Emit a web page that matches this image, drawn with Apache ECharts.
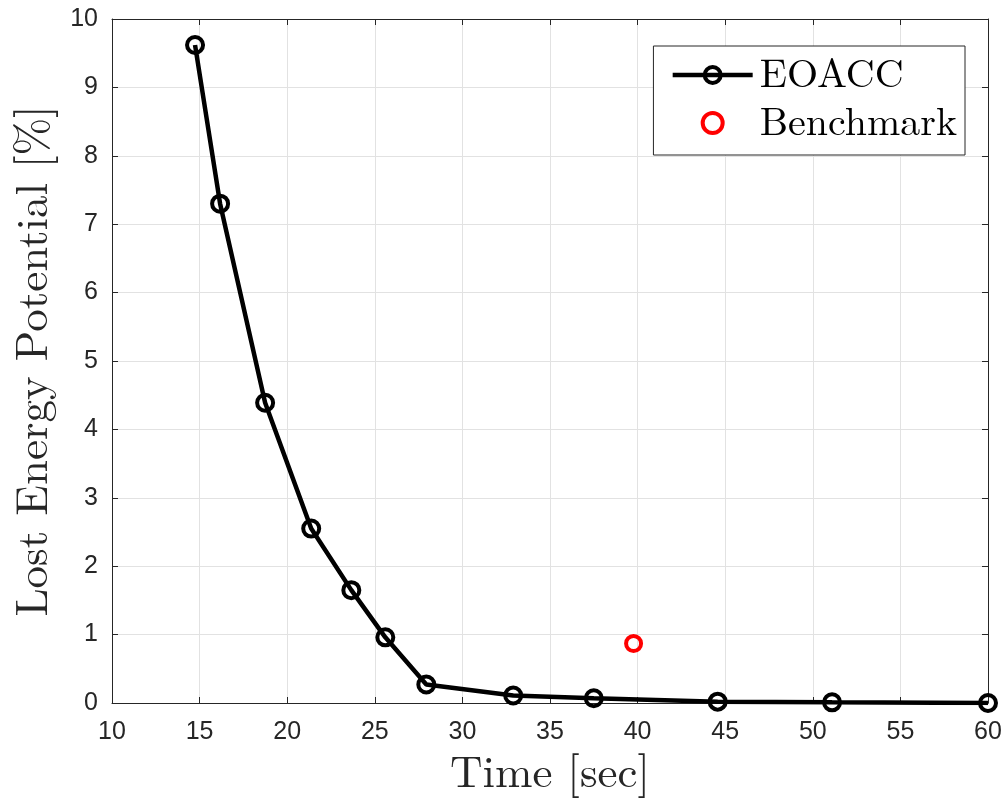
<!DOCTYPE html>
<html>
<head>
<meta charset="utf-8">
<script src="https://cdn.jsdelivr.net/npm/echarts@6/dist/echarts.min.js"></script>
<style>html,body{margin:0;padding:0;background:#fff}#c{width:1008px;height:801px}</style>
</head>
<body>
<div id="c"></div>
<script>
const eoaccTime = [14.74, 16.17, 18.74, 21.37, 23.66, 25.6, 27.94, 32.9, 37.5, 44.57, 51.1, 60.0];
const eoaccLoss = [9.62, 7.30, 4.39, 2.55, 1.65, 0.96, 0.27, 0.11, 0.07, 0.02, 0.01, 0.0];
const benchTime = [39.77];
const benchLoss = [0.87];
const xTicks = {min: 10, max: 60, interval: 5};
const yTicks = {min: 0, max: 10, interval: 1};

const chart = echarts.init(document.getElementById('c'), null, {renderer: 'canvas'});
const axisCol = '#262626';
const serif = '"Latin Modern Roman","CMU Serif","Liberation Serif","DejaVu Serif",serif';
const sans = '"Liberation Sans",Arial,Helvetica,sans-serif';

function baseX(pos, labels) {
  return {
    type: 'value', position: pos, min: xTicks.min, max: xTicks.max, interval: xTicks.interval,
    axisLine: {show: true, onZero: false, lineStyle: {color: axisCol, width: 1}},
    axisTick: {show: true, inside: true, length: 6, lineStyle: {color: axisCol}},
    axisLabel: {show: labels, color: axisCol, fontFamily: sans, fontSize: 25, margin: 17},
    splitLine: {show: labels, lineStyle: {color: '#e2e2e2', width: 1}}
  };
}
function baseY(pos, labels) {
  return {
    type: 'value', position: pos, min: yTicks.min, max: yTicks.max, interval: yTicks.interval,
    axisLine: {show: true, onZero: false, lineStyle: {color: axisCol, width: 1}},
    axisTick: {show: true, inside: true, length: 6, lineStyle: {color: axisCol}},
    axisLabel: {show: labels, color: axisCol, fontFamily: sans, fontSize: 25, margin: 14},
    splitLine: {show: labels, lineStyle: {color: '#e2e2e2', width: 1}}
  };
}

const xa0 = baseX('bottom', true);
xa0.name = 'Time [sec]';
xa0.nameLocation = 'middle';
xa0.nameGap = 48;
xa0.nameTextStyle = {fontFamily: serif, fontSize: 45, color: axisCol};
const ya0 = baseY('left', true);
ya0.name = 'Lost Energy Potential [%]';
ya0.nameLocation = 'middle';
ya0.nameGap = 56;
ya0.nameTextStyle = {fontFamily: serif, fontSize: 45, color: axisCol};

chart.setOption({
  backgroundColor: '#fff',
  animation: false,
  grid: {left: 112, right: 20, top: 19, bottom: 98, containLabel: false},
  xAxis: [xa0, baseX('top', false)],
  yAxis: [ya0, baseY('right', false)],
  legend: {
    right: 43, top: 46, orient: 'vertical', itemGap: 8, itemWidth: 80, itemHeight: 20,
    padding: [9, 8, 12, 17],
    backgroundColor: '#fff', borderColor: axisCol, borderWidth: 1, borderRadius: 0,
    textStyle: {fontFamily: serif, fontSize: 40, color: '#000', padding: [0, 0, 0, 2]},
    data: [
      {name: 'EOACC', lineStyle: {color: '#000', width: 4.5},
       itemStyle: {color: 'rgba(0,0,0,0)', borderColor: '#000', borderWidth: 4}},
      {name: 'Benchmark',
       itemStyle: {color: 'rgba(0,0,0,0)', borderColor: '#ff0000', borderWidth: 4, opacity: 1}}
    ]
  },
  series: [
    {
      name: 'EOACC', type: 'line', xAxisIndex: 0, yAxisIndex: 0,
      data: eoaccTime.map((t, i) => [t, eoaccLoss[i]]),
      symbol: 'circle', symbolSize: 16, showAllSymbol: true,
      lineStyle: {color: '#000', width: 4.5},
      itemStyle: {color: 'rgba(0,0,0,0)', borderColor: '#000', borderWidth: 4},
      z: 3
    },
    {
      name: 'Benchmark', type: 'scatter', xAxisIndex: 0, yAxisIndex: 0,
      data: benchTime.map((t, i) => [t, benchLoss[i]]),
      symbol: 'circle', symbolSize: 15,
      itemStyle: {color: 'rgba(0,0,0,0)', borderColor: '#ff0000', borderWidth: 4, opacity: 1},
      z: 4
    }
  ]
});
</script>
</body>
</html>
